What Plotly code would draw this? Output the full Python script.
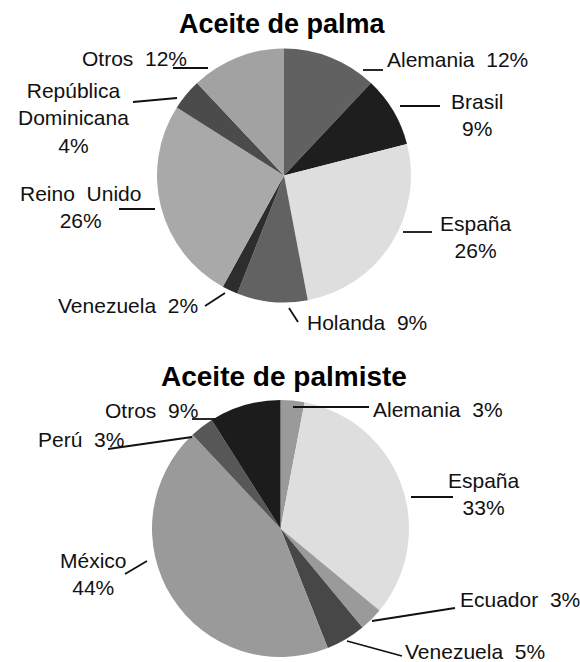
import plotly.graph_objects as go

# ---------------- data ----------------
palma_labels = ["Alemania", "Brasil", "España", "Holanda", "Venezuela",
                "Reino Unido", "República Dominicana", "Otros"]
palma_values = [12, 9, 26, 9, 2, 26, 4, 12]

palmiste_labels = ["Alemania", "España", "Ecuador", "Venezuela", "México", "Perú", "Otros"]
palmiste_values = [3, 33, 3, 5, 44, 3, 9]

titles = ["Aceite de palma", "Aceite de palmiste"]

# ---------------- styling ----------------
W, H = 580, 662
palma_colors = ["#616161", "#1e1e1e", "#dedede", "#626262", "#2d2d2d",
                "#a9a9a9", "#4b4b4b", "#a2a2a2"]
palmiste_colors = ["#9a9a9a", "#dedede", "#9a9a9a", "#474747", "#9a9a9a",
                   "#575757", "#1c1c1c"]

# label display text templates (how name / value are broken into lines)
palma_label_text = ["Alemania\u00a0 {v}%", "Brasil<br>{v}%", "España<br>{v}%",
                    "Holanda\u00a0 {v}%", "Venezuela\u00a0 {v}%",
                    "Reino\u00a0 Unido<br>{v}%", "República<br>Dominicana<br>{v}%",
                    "Otros\u00a0 {v}%"]
palmiste_label_text = ["Alemania\u00a0 {v}%", "España<br>{v}%", "Ecuador\u00a0 {v}%",
                       "Venezuela\u00a0 {v}%", "México<br>{v}%", "Perú\u00a0 {v}%",
                       "Otros\u00a0 {v}%"]

# label placement in pixels: (x, y_center, xanchor)
palma_label_pos = [(385, 59.5, "left"), (477, 115.5, "center"), (476, 237, "center"),
                   (305, 322.5, "left"), (200, 305.5, "right"), (80, 206.8, "center"),
                   (73, 118.5, "center"), (189, 58.5, "right")]
palmiste_label_pos = [(371, 409.5, "left"), (484, 494, "center"), (458, 599.5, "left"),
                      (403, 651.5, "left"), (93.5, 573.5, "center"), (126, 439.5, "right"),
                      (200, 410.5, "right")]

# leader lines in pixels
palma_leaders = [(363, 70, 383, 70), (400, 106, 440, 106), (403, 232, 432, 232),
                 (289, 308, 298, 322), (205, 306, 225, 293), (119, 209, 155, 209),
                 (133, 102, 177, 98), (173, 68, 208, 68)]
palmiste_leaders = [(293, 407, 369, 407), (411, 497, 453, 497), (372, 621, 455, 608),
                    (347, 641, 402, 656), (125, 574, 147, 561), (108, 449, 192, 437),
                    (192, 419, 215, 419)]

title_pos = [(282.5, 24), (283.5, 376)]

# pie boxes (left, top, right, bottom) in px
pie_boxes = [(157, 48, 411, 303), (152, 400, 409, 657)]


def px(x):
    return x / W


def py(y):
    return 1 - y / H


fig = go.Figure()
for labels, values, colors, box in [
    (palma_labels, palma_values, palma_colors, pie_boxes[0]),
    (palmiste_labels, palmiste_values, palmiste_colors, pie_boxes[1]),
]:
    l, t, r, b = box
    fig.add_trace(go.Pie(
        labels=labels, values=values, sort=False, direction="clockwise",
        rotation=0, textinfo="none", hoverinfo="label+percent",
        marker=dict(colors=colors, line=dict(width=0)),
        domain=dict(x=[px(l), px(r)], y=[py(b), py(t)]),
        showlegend=False,
    ))

annotations = []
label_font = dict(family="Liberation Sans, Arial, sans-serif", size=21, color="#111111")
for texts, values, positions in [
    (palma_label_text, palma_values, palma_label_pos),
    (palmiste_label_text, palmiste_values, palmiste_label_pos),
]:
    for tmpl, v, (x, y, xa) in zip(texts, values, positions):
        annotations.append(dict(
            text=tmpl.format(v=v), x=px(x), y=py(y), xref="paper", yref="paper",
            xanchor=xa, yanchor="middle", showarrow=False, align="center",
            font=label_font,
        ))

for title, size, (x, y) in zip(titles, [27, 28], title_pos):
    annotations.append(dict(
        text=f"<b>{title}</b>", x=px(x), y=py(y), xref="paper", yref="paper",
        xanchor="center", yanchor="middle", showarrow=False,
        font=dict(family="Liberation Sans, Arial, sans-serif", size=size, color="#000000"),
    ))

shapes = []
for (x0, y0, x1, y1) in palma_leaders + palmiste_leaders:
    shapes.append(dict(type="line", xref="paper", yref="paper",
                       x0=px(x0), y0=py(y0), x1=px(x1), y1=py(y1),
                       line=dict(color="#111111", width=1.8)))

fig.update_layout(
    width=W, height=H,
    margin=dict(l=0, r=0, t=0, b=0),
    paper_bgcolor="white", plot_bgcolor="white",
    annotations=annotations, shapes=shapes,
)

fig.write_html("out.html", config={"displayModeBar": False},
               post_script="document.body.style.margin='0';document.body.style.overflow='hidden';")
